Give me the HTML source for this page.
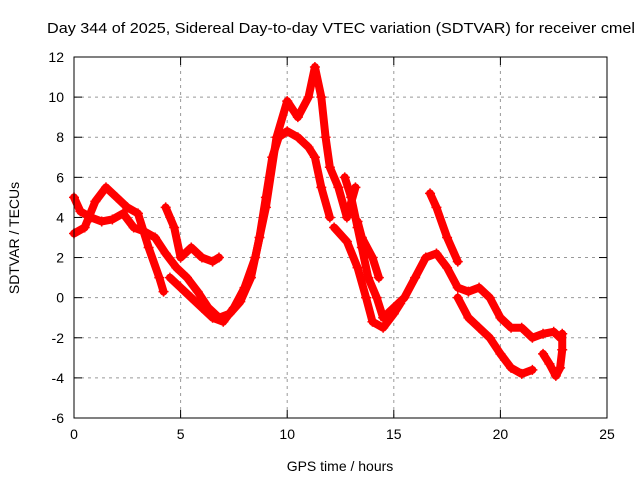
<!DOCTYPE html>
<html><head><meta charset="utf-8"><style>
body{margin:0;background:#fff}
svg text{font-family:"Liberation Sans",sans-serif;font-size:14px;fill:#000}
</style></head><body>
<svg id="c" width="640" height="480">
<rect width="640" height="480" fill="#fff"/>
<text x="47" y="33" textLength="588" lengthAdjust="spacingAndGlyphs" style="font-size:15px">Day 344 of 2025, Sidereal Day-to-day VTEC variation (SDTVAR) for receiver cmel</text>
<text x="340" y="471" text-anchor="middle">GPS time / hours</text>
<text transform="translate(19,238) rotate(-90)" text-anchor="middle">SDTVAR / TECUs</text>
<g id="grid"></g><g id="marks"></g>
<rect x="74" y="57" width="533" height="361" fill="none" stroke="#000" stroke-width="1"/>
</svg>
<script>
const xTicks=[0,5,10,15,20,25];
const yTicks=[-6,-4,-2,0,2,4,6,8,10,12];
const s1t=[0,0.3,0.8,1.3,1.8,2.3,2.8,3.3,3.8,4.3,4.8,5.3,5.8,6.3,6.8,7.3,7.8,8.3,8.7,9.0,9.3,9.6,10.0,10.5,11.0,11.3,11.6,12.0];
const s1v=[5,4.3,4.0,3.8,3.9,4.2,3.5,3.3,3.0,2.2,1.5,1.0,0.3,-0.5,-1.0,-0.8,-0.2,1.0,3.0,5.0,7.0,8.0,8.3,8.0,7.5,7.0,5.5,4.0];
const s2t=[0,0.5,1.0,1.5,2.0,2.5,3.0,3.5,4.0,4.2];
const s2v=[3.2,3.5,4.8,5.5,5.0,4.5,4.2,2.5,1.0,0.3];
const s3t=[4.3,4.7,5.0,5.5,6.0,6.5,6.8];
const s3v=[4.5,3.5,2.0,2.5,2.0,1.8,2.0];
const s4t=[4.5,5.0,5.5,6.0,6.5,7.0,7.5,8.0,8.5,9.0,9.5,10.0,10.5,11.0,11.3,11.6,11.8,12.0,12.4,12.8,13.2];
const s4v=[1.0,0.5,0.0,-0.5,-1.0,-1.2,-0.5,0.5,2.0,4.5,8.0,9.8,9.0,10.0,11.5,10.0,8.0,6.5,5.5,4.0,5.5];
const s5t=[12.7,13.0,13.3,13.5,13.8,14.2,14.5,15.0,15.5,16.0,16.5,17.0,17.5,18.0,18.5,19.0,19.5,20.0,20.5,21.0,21.5,22.0,22.5,22.8];
const s5v=[6,5,3.5,2.5,1,0,-1,-0.5,0,1,2.0,2.2,1.5,0.5,0.3,0.5,0,-1,-1.5,-1.5,-2,-1.8,-1.7,-2];
const s6t=[12.2,12.8,13.3,13.7,14.0,14.5,15.0,15.3];
const s6v=[3.5,2.8,1.5,0,-1.2,-1.5,-0.8,-0.3];
const s7t=[16.7,17.0,17.5,18.0];
const s7v=[5.2,4.5,3.0,1.8];
const s8t=[18.0,18.5,19.0,19.5,20.0,20.5,21.0,21.5];
const s8v=[0,-1,-1.5,-2,-2.8,-3.5,-3.8,-3.6];
const s9t=[22.0,22.3,22.6,22.8,22.9,22.9];
const s9v=[-2.8,-3.3,-3.9,-3.5,-2.6,-1.8];
const s10t=[13.3,13.5,14.0,14.3];
const s10v=[3.8,3.0,2.0,1.0];
const series=[[s1t,s1v],[s2t,s2v],[s3t,s3v],[s4t,s4v],[s5t,s5v],[s6t,s6v],[s7t,s7v],[s8t,s8v],[s9t,s9v],[s10t,s10v]];
const X=t=>74+t*(533/25), Y=v=>418-(v+6)*(361/18);
const NS='http://www.w3.org/2000/svg';
const g=document.getElementById('grid'), m=document.getElementById('marks');
function mk(tag,at,parent){const e=document.createElementNS(NS,tag);for(const k in at)e.setAttribute(k,at[k]);parent.appendChild(e);return e;}
xTicks.forEach(t=>{const x=X(t);
 if(t>0&&t<25){const l=mk('line',{x1:x,x2:x,y1:57,y2:418,stroke:'#999','stroke-dasharray':'3,4'},g);
 
 }
 mk('line',{x1:x,x2:x,y1:418,y2:410,stroke:'#000'},g);mk('line',{x1:x,x2:x,y1:57,y2:65,stroke:'#000'},g);
 const tx=mk('text',{x:x,y:439,'text-anchor':'middle'},g);tx.textContent=t;
 
 });
yTicks.forEach(v=>{const y=Y(v);
 if(v>-6&&v<12){const l=mk('line',{x1:74,x2:607,y1:y,y2:y,stroke:'#999','stroke-dasharray':'3,4'},g);
 
 }
 mk('line',{x1:74,x2:82,y1:y,y2:y,stroke:'#000'},g);mk('line',{x1:607,x2:599,y1:y,y2:y,stroke:'#000'},g);
 const tx=mk('text',{x:64,y:y+5,'text-anchor':'end'},g);tx.textContent=v;
 
 });
series.forEach((s,i)=>{
 const pts=s[0].map((t,j)=>X(t)+','+Y(s[1][j])).join(' ');
 const pl=mk('polyline',{points:pts,fill:'none',stroke:'#f00','stroke-width':8,'stroke-linejoin':'round','stroke-linecap':'round'},m);
 
 
 s[0].forEach((t,j)=>{const x=X(t),y=Y(s[1][j]);
  const p=mk('path',{d:`M${x-5},${y}h10M${x},${y-5}v10`,stroke:'#f00','stroke-width':1.5},m);
  
  });
});
</script>
</body></html>
